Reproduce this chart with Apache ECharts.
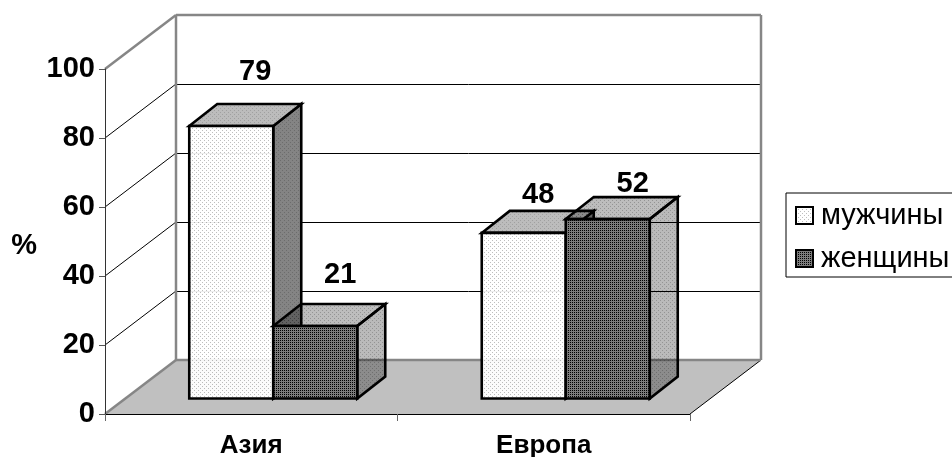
<!DOCTYPE html>
<html><head><meta charset="utf-8">
<style>html,body{margin:0;padding:0;background:#fff}#c{width:952px;height:457px}</style>
<script src="https://cdn.jsdelivr.net/npm/echarts@6/dist/echarts.min.js"></script>
</head><body><div id="c"></div>
<script>
const categories = ['Азия', 'Европа'];
const menName = 'мужчины';
const womenName = 'женщины';
const menValues = [79, 48];
const womenValues = [21, 52];
const yTicks = [0, 20, 40, 60, 80, 100];

// oblique projection of the 3D box
const FONT = '"Liberation Sans", Arial, sans-serif';
const WALL = { dx: 71, dy: -54 };
const BAR = { startX: 22, startY: -15.5, depthX: 28, depthY: -22, widthFrac: 84 / 292.5 };
const labelNudge = { '0_0': [24, -53.5], '0_1': [14.5, -38], '1_0': [25, -51], '1_1': [25, -35] };

function tile(base, dots) {
  const c = document.createElement('canvas');
  c.width = c.height = 4;
  const g = c.getContext('2d');
  g.fillStyle = base; g.fillRect(0, 0, 4, 4);
  dots.forEach(d => { g.clearRect(d[0], d[1], 1, 1); g.fillStyle = d[2]; g.fillRect(d[0], d[1], 1, 1); });
  return { image: c, repeat: 'repeat' };
}
const sparse = col => [[0, 0, col], [2, 2, col]];
const grid4 = col => [[0, 0, col], [2, 0, col], [0, 2, col], [2, 2, col]];
const FILL = [
  { front: tile('rgba(255,255,255,0.93)', sparse('rgba(185,185,185,0.93)')),
    top: tile('#bcbcbc', sparse('#a0a0a0')),
    side: tile('#848484', sparse('#6c6c6c')) },
  { front: tile('#7c7c7c', grid4('#000000')),
    top: tile('rgba(0,0,0,0.26)', sparse('rgba(0,0,0,0.42)')),
    side: tile('rgba(0,0,0,0.27)', sparse('rgba(0,0,0,0.42)')) }
];

function wallItem(params, api) {
  const v = api.value(1), cs = params.coordSys;
  const p = api.coord([0, v]);
  const left = cs.x, right = cs.x + cs.width, y = p[1];
  const bx = left + WALL.dx, rx = right + WALL.dx, by = y + WALL.dy;
  const kids = [];
  const gray = { stroke: '#868686', lineWidth: 2.5, fill: null };
  const thin = { stroke: '#000', lineWidth: 1, fill: null };
  if (v === 0) {
    kids.push({ type: 'polygon', shape: { points: [[left, y], [right, y], [rx, by], [bx, by]] }, style: { fill: '#c0c0c0' } });
    kids.push({ type: 'line', shape: { x1: left, y1: y, x2: bx, y2: by }, style: gray });
    kids.push({ type: 'line', shape: { x1: right, y1: y, x2: rx, y2: by }, style: thin });
    kids.push({ type: 'line', shape: { x1: bx, y1: by, x2: rx, y2: by }, style: gray });
  } else if (v === 100) {
    kids.push({ type: 'line', shape: { x1: left, y1: y, x2: bx, y2: by }, style: gray });
    kids.push({ type: 'line', shape: { x1: bx, y1: by, x2: rx, y2: by }, style: gray });
    kids.push({ type: 'line', shape: { x1: bx, y1: by, x2: bx, y2: by + cs.height }, style: gray });
    kids.push({ type: 'line', shape: { x1: rx, y1: by, x2: rx, y2: by + cs.height }, style: gray });
  } else {
    kids.push({ type: 'line', shape: { x1: left, y1: y, x2: bx, y2: by }, style: thin });
    kids.push({ type: 'line', shape: { x1: bx, y1: by + 0.5, x2: rx, y2: by + 0.5 }, style: thin });
  }
  return { type: 'group', children: kids };
}

function barItem(sIdx) {
  return function (params, api) {
    const cat = api.value(0), val = api.value(1);
    const base = api.coord([cat, 0]), topPt = api.coord([cat, val]);
    const w = api.size([1, 0])[0] * BAR.widthFrac;
    const x0 = base[0] + BAR.startX + (sIdx - 1) * w, x1 = x0 + w;
    const yb = base[1] + BAR.startY, yt = topPt[1] + BAR.startY;
    const dx = BAR.depthX, dy = BAR.depthY;
    const edge = { stroke: '#000', lineWidth: 2.6, lineJoin: 'miter' };
    const f = FILL[sIdx];
    const nudge = labelNudge[sIdx + '_' + cat];
    return { type: 'group', children: [
      { type: 'polygon', shape: { points: [[x1, yt], [x1 + dx, yt + dy], [x1 + dx, yb + dy], [x1, yb]] }, style: Object.assign({ fill: f.side }, edge) },
      { type: 'polygon', shape: { points: [[x0, yt], [x0 + dx, yt + dy], [x1 + dx, yt + dy], [x1, yt]] }, style: Object.assign({ fill: f.top }, edge) },
      { type: 'rect', shape: { x: x0, y: yt, width: w, height: yb - yt }, style: Object.assign({ fill: f.front }, edge) },
      { type: 'text', style: { text: String(val), x: (x0 + x1) / 2 + nudge[0], y: yt + nudge[1], align: 'center', verticalAlign: 'middle', fill: '#000', font: 'bold 29px ' + FONT } }
    ] };
  };
}

const chart = echarts.init(document.getElementById('c'), null, { renderer: 'canvas' });
chart.setOption({
  animation: false,
  backgroundColor: '#fff',
  grid: { left: 105, top: 69, width: 585, height: 345, containLabel: false, outerBoundsMode: 'none' },
  xAxis: {
    type: 'category', data: categories, boundaryGap: true, z: 5,
    axisLine: { lineStyle: { color: '#000', width: 1 } },
    axisTick: { show: true, alignWithLabel: false, length: 7, lineStyle: { color: '#666' } },
    axisLabel: { color: '#000', fontFamily: FONT, fontWeight: 'bold', fontSize: 26, margin: 19 }
  },
  yAxis: {
    type: 'value', min: 0, max: 100, interval: 20, z: 5,
    name: '%', nameLocation: 'middle', nameRotate: 0, nameGap: 68,
    nameTextStyle: { color: '#000', fontFamily: FONT, fontWeight: 'bold', fontSize: 29, verticalAlign: 'top', lineHeight: 9 },
    splitLine: { show: false },
    axisLine: { show: true, lineStyle: { color: '#333', width: 1 } },
    axisTick: { show: true, length: 6, lineStyle: { color: '#555' } },
    axisLabel: { color: '#000', fontFamily: FONT, fontWeight: 'bold', fontSize: 29, margin: 10 }
  },
  legend: {
    orient: 'vertical', left: 786, top: 193, align: 'left', selectedMode: false,
    padding: [8, 10, 4, 9], itemWidth: 17, itemHeight: 17, itemGap: 14,
    backgroundColor: '#fff', borderColor: '#000', borderWidth: 1,
    textStyle: { color: '#000', fontFamily: FONT, fontSize: 29, padding: [0, 0, 0, 3] },
    data: [
      { name: menName, icon: 'rect', itemStyle: { color: FILL[0].front, borderColor: '#000', borderWidth: 2 } },
      { name: womenName, icon: 'rect', itemStyle: { color: FILL[1].front, borderColor: '#000', borderWidth: 2 } }
    ]
  },
  series: [
    { type: 'custom', name: 'стены', silent: true, clip: false, z: 1, renderItem: wallItem,
      encode: { x: 0, y: 1 }, data: yTicks.map(v => [0, v]) },
    { type: 'custom', name: menName, clip: false, z: 2, renderItem: barItem(0), encode: { x: 0, y: 1 },
      itemStyle: { color: '#f0f0f0' }, data: menValues.map((v, i) => [i, v]) },
    { type: 'custom', name: womenName, clip: false, z: 3, renderItem: barItem(1), encode: { x: 0, y: 1 },
      itemStyle: { color: '#5c5c5c' }, data: womenValues.map((v, i) => [i, v]) }
  ]
});
</script></body></html>
